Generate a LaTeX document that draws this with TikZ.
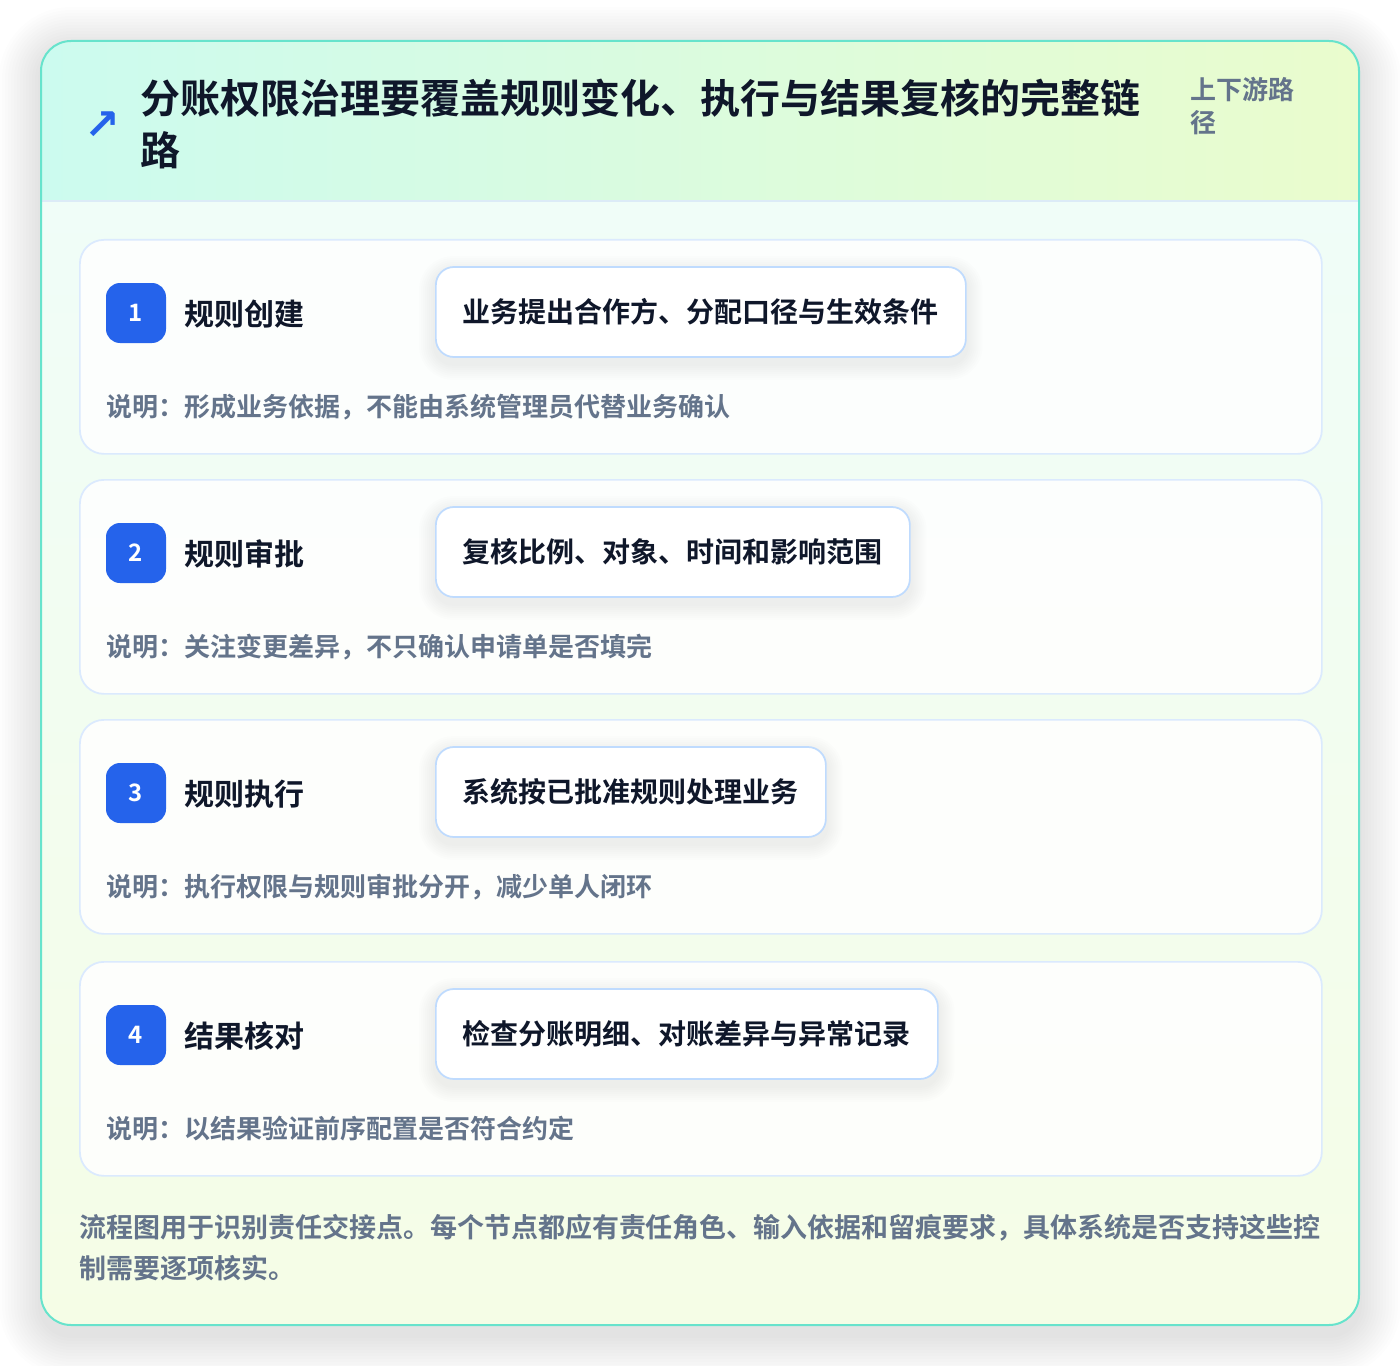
\documentclass[tikz,border=0pt]{standalone}
\usepackage{fontspec}
\setmainfont{Noto Sans CJK SC}[BoldFont={Noto Sans CJK SC Bold}]
\newfontfamily\symfont{DejaVu Sans}
\definecolor{tealb}{HTML}{67E3CC}
\definecolor{headL}{HTML}{CCFBEF}
\definecolor{headR}{HTML}{EAFCCD}
\definecolor{bodyT}{HTML}{F0FDF8}
\definecolor{bodyB}{HTML}{F5FDE6}
\definecolor{sepc}{HTML}{DCEBF7}
\definecolor{cardb}{HTML}{DBEAFE}
\definecolor{pillb}{HTML}{BFDBFE}
\definecolor{bluec}{HTML}{2563EB}
\definecolor{darkc}{HTML}{0F172A}
\definecolor{slatec}{HTML}{64748B}
\pgfdeclarelayer{cardlayer}
\pgfdeclarelayer{shadowlayer}
\pgfdeclarelayer{front}
\pgfsetlayers{main,cardlayer,shadowlayer,front}
\tikzset{
  card/.style={draw=cardb, line width=1.3pt, fill=white, fill opacity=0.85, text opacity=1, rounded corners=18pt, inner sep=0pt, anchor=north west, minimum width=931.5pt, minimum height=160.5pt},
  badge/.style={fill=bluec, rounded corners=10.5pt, minimum size=45pt, inner sep=0pt, text=white, font=\bfseries\fontsize{18}{18}\selectfont},
  steptitle/.style={anchor=west, inner sep=0pt, text=darkc, font=\bfseries\fontsize{22.5}{22.5}\selectfont},
  pill/.style={anchor=west, draw=pillb, line width=1.3pt, fill=white, rounded corners=13.5pt, inner xsep=20.25pt, inner ysep=0pt, minimum height=67.5pt, text=darkc, font=\bfseries\fontsize{21}{21}\selectfont},
  desc/.style={anchor=west, inner sep=0pt, text=slatec, font=\bfseries\fontsize{19.5}{19.5}\selectfont},
}
\begin{document}
\begin{tikzpicture}[x=0.75pt,y=-0.75pt]
\useasboundingbox (0,0) rectangle (1400,1366);
\fill[white] (0,0) rectangle (1400,1366);
% outer card soft shadow
\foreach \k in {1,...,14}{
  \fill[black, opacity=0.006, rounded corners={22.5pt+\k*2.25pt}] ({41-\k*3},{49-\k*3}) rectangle ({1359+\k*3},{1335+\k*3});
}
\fill[bodyT, rounded corners=22.5pt] (41,41) rectangle (1359,1325);
\begin{scope}
\clip[rounded corners=22.5pt] (41,41) rectangle (1359,1325);
\shade[top color=bodyT, bottom color=bodyB] (41,201) rectangle (1359,1325);
\shade[left color=headL, right color=headR] (41,41) rectangle (1359,201);
\end{scope}
\draw[sepc, line width=1.2pt] (42,201) -- (1358,201);
\draw[tealb, line width=1.5pt, rounded corners=22.5pt] (41,41) rectangle (1359,1325);
% header
\node (icon) [text=bluec, inner sep=0pt, font=\symfont\bfseries\fontsize{32}{32}\selectfont] at (102,126) {↗};
\node (title) [anchor=west, align=left, inner sep=0pt, text=darkc, font=\bfseries\fontsize{30}{39}\selectfont] at (140,124) {分账权限治理要覆盖规则变化、执行与结果复核的完整链\\路};
\node (tag) [anchor=west, align=left, inner sep=0pt, text=slatec, font=\bfseries\fontsize{19.5}{24.75}\selectfont] at (1190,106) {上下游路\\径};
% steps
\foreach \i/\y/\t/\p/\d in {
  1/239/规则创建/业务提出合作方、分配口径与生效条件/形成业务依据，不能由系统管理员代替业务确认,
  2/479/规则审批/复核比例、对象、时间和影响范围/关注变更差异，不只确认申请单是否填完,
  3/719/规则执行/系统按已批准规则处理业务/执行权限与规则审批分开，减少单人闭环,
  4/961/结果核对/检查分账明细、对账差异与异常记录/以结果验证前序配置是否符合约定}{
  \begin{pgfonlayer}{cardlayer}
  \node (card\i) [card] at (79,\y) {};
  \end{pgfonlayer}
  \begin{pgfonlayer}{front}
  \node (badge\i) [badge] at (136,{\y+74}) {\i};
  \node (stitle\i) [steptitle] at (184,{\y+75}) {\t};
  \node (pill\i) [pill] at (435,{\y+73}) {\p};
  \node (desc\i) [desc] at (106,{\y+168}) {说明：\d};
  \end{pgfonlayer}
  \begin{pgfonlayer}{shadowlayer}
  \foreach \k in {1,...,8}{
    \fill[black, opacity=0.009, rounded corners={13.5pt+\k*1.5pt}] ([xshift={-\k*1.5pt}, yshift={-4.5pt+\k*1.5pt}]pill\i.north west) rectangle ([xshift={\k*1.5pt}, yshift={-4.5pt-\k*1.5pt}]pill\i.south east);
  }
  \end{pgfonlayer}
}
% footer
\node (foot) [anchor=west, align=left, inner sep=0pt, text=slatec, font=\bfseries\fontsize{20.24}{30.75}\selectfont] at (79,1248) {流程图用于识别责任交接点。每个节点都应有责任角色、输入依据和留痕要求，具体系统是否支持这些控\\制需要逐项核实。};
\end{tikzpicture}
\end{document}
